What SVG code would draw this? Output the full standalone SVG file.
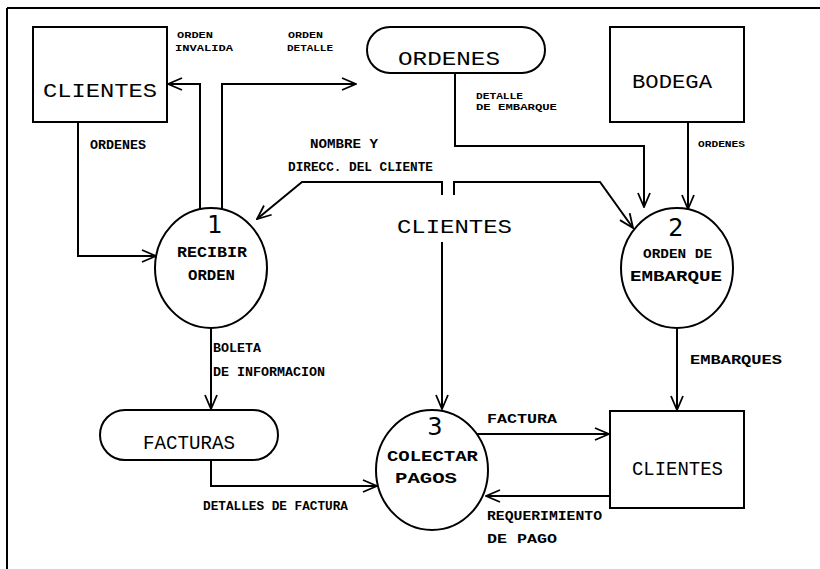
<svg xmlns="http://www.w3.org/2000/svg" width="820" height="569" viewBox="0 0 820 569">
<defs>
<marker id="arr" viewBox="0 0 16 14" refX="15" refY="7" markerWidth="16" markerHeight="14" markerUnits="userSpaceOnUse" orient="auto">
<polyline points="1,1 15,7 1,13" fill="none" stroke="#000" stroke-width="1.8"/>
</marker>
<style>
.ln{fill:none;stroke:#000;stroke-width:2}
.sh{fill:none;stroke:#000;stroke-width:2}
.big{font-family:"Liberation Mono","DejaVu Sans Mono",monospace;font-size:21px;fill:#000}
.mid{font-family:"Liberation Mono","DejaVu Sans Mono",monospace;font-size:15px;font-weight:bold;fill:#000}
.sm{font-family:"Liberation Mono","DejaVu Sans Mono",monospace;font-size:12px;font-weight:bold;fill:#000}
.xs{font-family:"Liberation Mono","DejaVu Sans Mono",monospace;font-size:9px;font-weight:bold;fill:#000}
.dig{font-family:"DejaVu Sans","Liberation Sans",sans-serif;font-size:24px;fill:#000}
</style>
</defs>
<rect width="820" height="569" fill="#fff"/>
<path class="ln" d="M7,8 H820 M7,8 V569"/>

<g id="clientes1">
<rect class="sh" x="33" y="27" width="134" height="95"/>
<text class="big" x="43" y="97" textLength="114" lengthAdjust="spacingAndGlyphs">CLIENTES</text>
</g>
<g id="ordenes_store">
<rect class="sh" x="367" y="27" width="178" height="46" rx="23" ry="23"/>
<text class="big" x="398" y="65" textLength="102" lengthAdjust="spacingAndGlyphs">ORDENES</text>
</g>
<g id="bodega">
<rect class="sh" x="610" y="27" width="134" height="95"/>
<text class="big" x="632" y="88" textLength="80" lengthAdjust="spacingAndGlyphs">BODEGA</text>
</g>
<g id="p1">
<ellipse class="sh" cx="211" cy="268" rx="56" ry="60"/>
<text class="dig" x="215" y="233" text-anchor="middle">1</text>
<text class="mid" x="177" y="257" textLength="70" lengthAdjust="spacingAndGlyphs">RECIBIR</text>
<text class="mid" x="188" y="280" textLength="47" lengthAdjust="spacingAndGlyphs">ORDEN</text>
</g>
<g id="clientes_mid">
<text class="big" x="397" y="233" textLength="115" lengthAdjust="spacingAndGlyphs">CLIENTES</text>
</g>
<g id="p2">
<ellipse class="sh" cx="677" cy="268" rx="56" ry="60"/>
<text class="dig" x="676" y="236" text-anchor="middle">2</text>
<text class="sm" x="643" y="258" textLength="69" lengthAdjust="spacingAndGlyphs">ORDEN DE</text>
<text class="mid" x="630" y="281" textLength="92" lengthAdjust="spacingAndGlyphs">EMBARQUE</text>
</g>
<g id="facturas">
<rect class="sh" x="100" y="410" width="178" height="50" rx="25" ry="25"/>
<text class="big" x="143" y="449" textLength="92" lengthAdjust="spacingAndGlyphs">FACTURAS</text>
</g>
<g id="p3">
<ellipse class="sh" cx="432" cy="470" rx="56" ry="60"/>
<text class="dig" x="435" y="435" text-anchor="middle">3</text>
<text class="mid" x="387" y="461" textLength="91" lengthAdjust="spacingAndGlyphs">COLECTAR</text>
<text class="mid" x="395" y="483" textLength="62" lengthAdjust="spacingAndGlyphs">PAGOS</text>
</g>
<g id="clientes2">
<rect class="sh" x="610" y="411" width="134" height="97"/>
<text class="big" x="632" y="475" textLength="91" lengthAdjust="spacingAndGlyphs">CLIENTES</text>
</g>

<g id="connectors">
<path class="ln" d="M78,122 V256 H156" marker-end="url(#arr)"/>
<path class="ln" d="M200,210 V84 H168" marker-end="url(#arr)"/>
<path class="ln" d="M222,210 V84 H356" marker-end="url(#arr)"/>
<path class="ln" d="M455,73 V146 H644 V207" marker-end="url(#arr)"/>
<path class="ln" d="M688,122 V209" marker-end="url(#arr)"/>
<path class="ln" d="M442,195 V182 H302 L257,219" marker-end="url(#arr)"/>
<path class="ln" d="M454,195 V182 H600 L633,228" marker-end="url(#arr)"/>
<path class="ln" d="M442,242 V409" marker-end="url(#arr)"/>
<path class="ln" d="M211,328 V409" marker-end="url(#arr)"/>
<path class="ln" d="M211,460 V486 H377" marker-end="url(#arr)"/>
<path class="ln" d="M677,328 V410" marker-end="url(#arr)"/>
<path class="ln" d="M477,434 H609" marker-end="url(#arr)"/>
<path class="ln" d="M610,496 H486" marker-end="url(#arr)"/>
</g>

<g id="labels">
<text class="xs" x="177" y="38" textLength="36" lengthAdjust="spacingAndGlyphs">ORDEN</text>
<text class="xs" x="175" y="51" textLength="58" lengthAdjust="spacingAndGlyphs">INVALIDA</text>
<text class="xs" x="288" y="38" textLength="35" lengthAdjust="spacingAndGlyphs">ORDEN</text>
<text class="xs" x="287" y="51" textLength="46" lengthAdjust="spacingAndGlyphs">DETALLE</text>
<text class="xs" x="476" y="99" textLength="47" lengthAdjust="spacingAndGlyphs">DETALLE</text>
<text class="xs" x="476" y="110" textLength="81" lengthAdjust="spacingAndGlyphs">DE EMBARQUE</text>
<text class="sm" x="90" y="149" textLength="56" lengthAdjust="spacingAndGlyphs">ORDENES</text>
<text class="xs" x="698" y="147" textLength="47" lengthAdjust="spacingAndGlyphs">ORDENES</text>
<text class="sm" x="310" y="148" textLength="68" lengthAdjust="spacingAndGlyphs">NOMBRE Y</text>
<text class="sm" x="288" y="171" textLength="145" lengthAdjust="spacingAndGlyphs">DIRECC. DEL CLIENTE</text>
<text class="sm" x="213" y="352" textLength="48" lengthAdjust="spacingAndGlyphs">BOLETA</text>
<text class="sm" x="213" y="376" textLength="112" lengthAdjust="spacingAndGlyphs">DE INFORMACION</text>
<text class="sm" x="690" y="364" textLength="92" lengthAdjust="spacingAndGlyphs">EMBARQUES</text>
<text class="sm" x="487" y="423" textLength="70" lengthAdjust="spacingAndGlyphs">FACTURA</text>
<text class="sm" x="203" y="510" textLength="145" lengthAdjust="spacingAndGlyphs">DETALLES DE FACTURA</text>
<text class="sm" x="487" y="520" textLength="115" lengthAdjust="spacingAndGlyphs">REQUERIMIENTO</text>
<text class="sm" x="487" y="543" textLength="70" lengthAdjust="spacingAndGlyphs">DE PAGO</text>
</g>
</svg>
